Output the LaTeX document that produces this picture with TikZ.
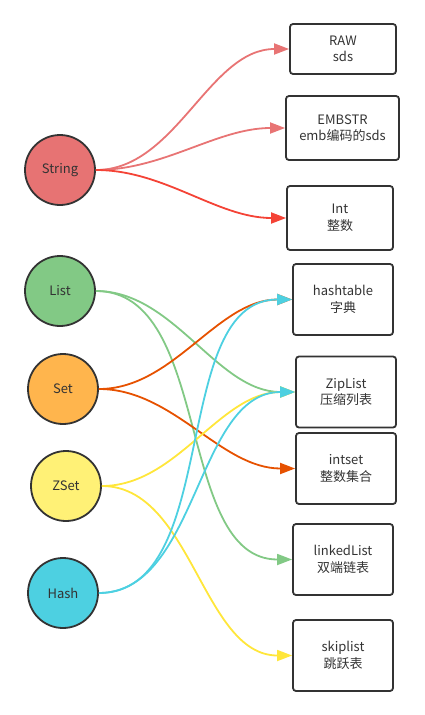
\documentclass[tikz,border=0pt]{standalone}
\usepackage{fontspec}
\setmainfont{Noto Sans CJK SC}
\usetikzlibrary{arrows.meta}
\definecolor{cstr}{HTML}{E77373}
\definecolor{clist}{HTML}{82C985}
\definecolor{cset}{HTML}{FFB54D}
\definecolor{czset}{HTML}{FFF176}
\definecolor{chash}{HTML}{4DD0E1}
\definecolor{aredl}{HTML}{E87474}
\definecolor{ared}{HTML}{F44336}
\definecolor{aorange}{HTML}{E65100}
\definecolor{ayellow}{HTML}{FFE63B}
\definecolor{dark}{HTML}{333333}
\tikzset{
  typ/.style={circle, draw=dark, line width=1.8pt, minimum size=70pt, inner sep=0pt, text=dark, font=\fontsize{13}{16}\selectfont},
  enc/.style={draw=dark, line width=1.8pt, rounded corners=3pt, inner sep=0pt, text=dark, align=center, font=\fontsize{13}{16.5}\selectfont},
  conn/.style={line width=1.8pt, -{Triangle[length=15pt,width=11pt]}, out=0, in=180, looseness=0.9}
}
\begin{document}
\begin{tikzpicture}[x=1pt,y=-1pt]
\useasboundingbox (0,0) rectangle (424,715);
% types
\node[typ, fill=cstr] (str) at (60,170) {String};
\node[typ, fill=clist] (list) at (60,291) {List};
\node[typ, fill=cset] (set) at (63,389) {Set};
\node[typ, fill=czset] (zset) at (66,486) {ZSet};
\node[typ, fill=chash] (hash) at (63,593) {Hash};
% encodings
\node[enc, minimum width=106pt, minimum height=50pt] (raw) at (343,49) {RAW\\sds};
\node[enc, minimum width=113pt, minimum height=64pt] (emb) at (342.5,128) {EMBSTR\\emb编码的sds};
\node[enc, minimum width=106pt, minimum height=64pt] (int) at (340,218) {Int\\整数};
\node[enc, minimum width=100pt, minimum height=71pt] (ht) at (343,299.5) {hashtable\\字典};
\node[enc, minimum width=100pt, minimum height=71pt] (zip) at (346,392) {ZipList\\压缩列表};
\node[enc, minimum width=100pt, minimum height=71pt] (iset) at (346,468.5) {intset\\整数集合};
\node[enc, minimum width=100pt, minimum height=71pt] (ll) at (343,559.5) {linkedList\\双端链表};
\node[enc, minimum width=100pt, minimum height=71pt] (skip) at (343,655.5) {skiplist\\跳跃表};
% connectors
\draw[conn, aredl] (str.east) to (raw.west);
\draw[conn, aredl] (str.east) to (emb.west);
\draw[conn, ared] (str.east) to (int.west);
\draw[conn, clist] (list.east) to (zip.west);
\draw[conn, clist] (list.east) to (ll.west);
\draw[conn, aorange] (set.east) to (ht.west);
\draw[conn, aorange] (set.east) to (iset.west);
\draw[conn, ayellow] (zset.east) to (zip.west);
\draw[conn, ayellow] (zset.east) to (skip.west);
\draw[conn, chash] (hash.east) to (ht.west);
\draw[conn, chash] (hash.east) to (zip.west);
\end{tikzpicture}
\end{document}
